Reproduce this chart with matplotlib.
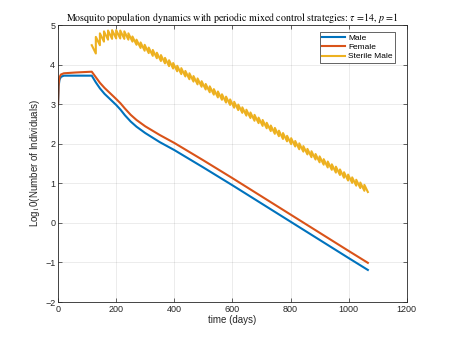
import numpy as np
import matplotlib
matplotlib.use("Agg")
import matplotlib.pyplot as plt

# ---- data ----
male_t = [0, 2, 5, 10, 20, 116, 130, 144, 160, 180, 200, 215, 230, 250, 270, 300, 350, 400,
          500, 600, 700, 800, 900, 1000, 1066]
male_v = [3.0, 3.45, 3.62, 3.69, 3.72, 3.72, 3.55, 3.40, 3.26, 3.12, 2.98, 2.86, 2.72, 2.56,
          2.43, 2.27, 2.04, 1.84, 1.40, 0.95, 0.49, 0.03, -0.43, -0.89, -1.19]
female_t = [0, 2, 5, 10, 20, 60, 116, 130, 144, 160, 180, 200, 215, 230, 250, 270, 300, 350,
            400, 500, 600, 700, 800, 900, 1000, 1066]
female_v = [3.0, 3.5, 3.68, 3.75, 3.78, 3.80, 3.82, 3.68, 3.54, 3.41, 3.27, 3.13, 3.02, 2.89,
            2.73, 2.60, 2.44, 2.22, 2.02, 1.58, 1.13, 0.67, 0.21, -0.25, -0.71, -1.01]

tau = 14
release_day = np.arange(116, 1055, tau)          # periodic releases every tau days
sterile_peak = [4.49, 4.70, 4.79, 4.84, 4.86, 4.87, 4.87, 4.86, 4.84, 4.79, 4.71, 4.63,
                4.56, 4.50, 4.43, 4.37, 4.30, 4.24, 4.17, 4.11, 4.04, 3.97, 3.91, 3.84,
                3.78, 3.71, 3.65, 3.58, 3.51, 3.45, 3.38, 3.32, 3.25, 3.19, 3.12, 3.06,
                2.99, 2.92, 2.86, 2.79, 2.73, 2.66, 2.60, 2.53, 2.46, 2.40, 2.33, 2.27,
                2.20, 2.14, 2.07, 2.01, 1.94, 1.87, 1.81, 1.74, 1.68, 1.61, 1.55, 1.48,
                1.42, 1.35, 1.28, 1.22, 1.15, 1.09, 1.02, 0.96]
# value just before each release (from the 2nd release on)
sterile_trough = [4.28, 4.49, 4.58, 4.63, 4.65, 4.66, 4.66, 4.65, 4.63, 4.58, 4.50,
                  4.42, 4.35, 4.29, 4.22, 4.16, 4.09, 4.03, 3.96, 3.90, 3.83, 3.76, 3.70,
                  3.63, 3.57, 3.50, 3.44, 3.37, 3.30, 3.24, 3.17, 3.11, 3.04, 2.98, 2.91,
                  2.85, 2.78, 2.71, 2.65, 2.58, 2.52, 2.45, 2.39, 2.32, 2.25, 2.19, 2.12,
                  2.06, 1.99, 1.93, 1.86, 1.80, 1.73, 1.66, 1.60, 1.53, 1.47, 1.40, 1.34,
                  1.27, 1.21, 1.14, 1.07, 1.01, 0.94, 0.88, 0.81]
sterile_end_t = 1066
sterile_end_v = 0.78

# build the saw-tooth path from the release values
st_t, st_v = [release_day[0]], [sterile_peak[0]]
for k in range(1, len(release_day)):
    st_t += [release_day[k], release_day[k]]
    st_v += [sterile_trough[k - 1], sterile_peak[k]]
st_t.append(sterile_end_t)
st_v.append(sterile_end_v)

# ---- figure ----
plt.rcParams['font.family'] = ['Liberation Sans', 'DejaVu Sans']
plt.rcParams['mathtext.fontset'] = 'stix'
fig = plt.figure(figsize=(4.5, 3.38), dpi=100)
ax = fig.add_axes([0.129, 0.1065, 0.775, 0.8195])

c_male, c_fem, c_st = '#0072BD', '#D95319', '#EDB120'
ax.plot(male_t, male_v, color=c_male, lw=1.5, label='Male')
ax.plot(female_t, female_v, color=c_fem, lw=1.5, label='Female')
ax.plot(st_t, st_v, color=c_st, lw=1.5, label='Sterile Male')

ax.set_xlim(0, 1200)
ax.set_ylim(-2, 5)
ax.set_xticks(range(0, 1201, 200))
ax.set_yticks(range(-2, 6))
ax.grid(True, color='#262626', alpha=0.12, lw=0.5)
ax.tick_params(direction='in', length=3, width=0.5, labelsize=6.5, colors='#262626',
               top=True, right=True, pad=2)
for s in ax.spines.values():
    s.set_linewidth(0.6)
    s.set_color('#262626')

ax.set_xlabel('time (days)', fontsize=7, color='#262626', labelpad=1)
ax.set_ylabel('Log$_{1}$0(Number of Individuals)', fontsize=7, color='#262626', labelpad=2)
ax.set_title(r'Mosquito population dynamics with periodic mixed control strategies: $\tau$ =14, $p$ =1',
             fontsize=7.2, family='STIXGeneral', color='black', pad=3)

leg = ax.legend(loc='upper right', fontsize=6, frameon=True, fancybox=False,
                edgecolor='#262626', framealpha=1, handlelength=2.8, handletextpad=0.35,
                borderpad=0.3, labelspacing=0.15, bbox_to_anchor=(0.979, 0.99))
leg.get_frame().set_linewidth(0.5)

fig.savefig('out.png', dpi=100)
